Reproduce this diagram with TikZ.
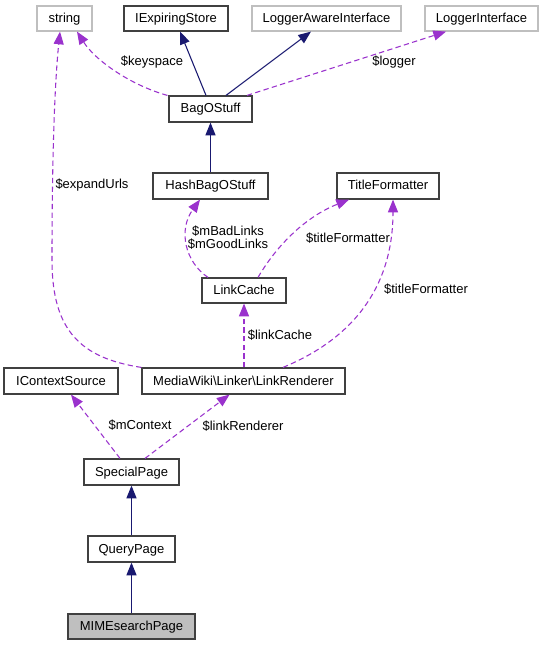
\documentclass[tikz,border=0pt]{standalone}
\usepackage{fontspec}
\setmainfont{Liberation Sans}
\usetikzlibrary{arrows.meta,calc}
\definecolor{edgepurple}{HTML}{9A32CD}
\definecolor{edgenavy}{HTML}{191970}
\definecolor{graybd}{HTML}{BFBFBF}
\definecolor{boxbd}{HTML}{404040}
\begin{document}
\begin{tikzpicture}[x=0.75pt,y=-0.75pt,
  font=\fontsize{9.75}{10.2}\selectfont,
  box/.style={draw=boxbd, line width=0.9pt, fill=white, inner sep=0pt, text=black, text height=7.5pt, text depth=1.5pt},
  extbox/.style={box, draw=graybd},
  curbox/.style={box, fill=graybd},
  inh/.style={draw=edgenavy, line width=0.8pt, -{Triangle[length=9.5pt,width=7.5pt]}},
  use/.style={draw=edgepurple, line width=0.8pt, dash pattern=on 4pt off 2.5pt, -{Triangle[length=9.5pt,width=7.5pt]}},
  lbl/.style={inner sep=0pt, text=black, align=center}]
\useasboundingbox (0,0) rectangle (543,645);
\fill[white] (0,0) rectangle (543,645);
% nodes
\node[extbox, minimum width={55*0.75pt}, minimum height={25*0.75pt}] (string) at (64.5,18.5) {string};
\node[box, minimum width={104*0.75pt}, minimum height={25*0.75pt}] (IExpiringStore) at (176,18.5) {IExpiringStore};
\node[extbox, minimum width={149*0.75pt}, minimum height={25*0.75pt}] (LoggerAwareInterface) at (326.5,18.5) {LoggerAwareInterface};
\node[extbox, minimum width={113*0.75pt}, minimum height={25*0.75pt}] (LoggerInterface) at (481.5,18.5) {LoggerInterface};
\node[box, minimum width={83*0.75pt}, minimum height={26*0.75pt}] (BagOStuff) at (210.5,109) {BagOStuff};
\node[box, minimum width={115*0.75pt}, minimum height={26*0.75pt}] (HashBagOStuff) at (210.5,186) {HashBagOStuff};
\node[box, minimum width={102*0.75pt}, minimum height={26*0.75pt}] (TitleFormatter) at (388,186) {TitleFormatter};
\node[box, minimum width={84*0.75pt}, minimum height={25*0.75pt}] (LinkCache) at (244,290.5) {LinkCache};
\node[box, minimum width={114*0.75pt}, minimum height={26*0.75pt}] (IContextSource) at (61,381) {IContextSource};
\node[box, minimum width={203*0.75pt}, minimum height={26*0.75pt}] (LinkRenderer) at (243.5,381) {MediaWiki\textbackslash Linker\textbackslash LinkRenderer};
\node[box, minimum width={95*0.75pt}, minimum height={26*0.75pt}] (SpecialPage) at (131.5,472) {SpecialPage};
\node[box, minimum width={87*0.75pt}, minimum height={26*0.75pt}] (QueryPage) at (131.5,549) {QueryPage};
\node[curbox, minimum width={127*0.75pt}, minimum height={25*0.75pt}] (MIMEsearchPage) at (131.5,626.5) {MIMEsearchPage};
% inheritance edges
\draw[inh] ($(BagOStuff.north)+(-4.5,0)$) -- ($(IExpiringStore.south)+(4,0)$);
\draw[inh] ($(BagOStuff.north)+(15.5,0)$) -- ($(LoggerAwareInterface.south)+(-15.5,0)$);
\draw[inh] (HashBagOStuff.north) -- (BagOStuff.south);
\draw[inh] (QueryPage.north) -- (SpecialPage.south);
\draw[inh] (MIMEsearchPage.north) -- (QueryPage.south);
% usage edges
\draw[use] ($(BagOStuff.north west)+(-1,0)$) .. controls (130,85) and (95,60) .. ($(string.south)+(12.5,0)$);
\draw[use] ($(BagOStuff.north)+(36.5,0)$) -- ($(LoggerInterface.south)+(-35.5,0)$);
\draw[use] ($(LinkCache.north)+(-36,0)$) .. controls (185,262) and (178,230) .. ($(HashBagOStuff.south)+(-10.5,0)$);
\draw[use] ($(LinkCache.north)+(14,0)$) .. controls (280,240) and (310,215) .. ($(TitleFormatter.south)+(-39,0)$);
\draw[use] ($(LinkRenderer.north)+(39.5,0)$) .. controls (325,350) and (393,310) .. ($(TitleFormatter.south)+(5,0)$);
\draw[use] ($(LinkRenderer.north)+(0.5,0)$) -- (LinkCache.south);
\draw[use] (LinkRenderer.north west) .. controls (80,358) and (52,330) .. (52,260) .. controls (52,150) and (55,80) .. ($(string.south)+(-4.5,0)$);
\draw[use] ($(SpecialPage.north)+(-11.5,0)$) -- ($(IContextSource.south)+(10,0)$);
\draw[use] ($(SpecialPage.north)+(13.5,0)$) -- ($(LinkRenderer.south)+(-14,0)$);
% labels
\node[lbl] (lkeyspace) at (152,62) {\$keyspace};
\node[lbl] (llogger) at (394,62) {\$logger};
\node[lbl] (lexpand) at (92,185) {\$expandUrls};
\node[lbl] (llinks) at (228,237.5) {\$mBadLinks\\\$mGoodLinks};
\node[lbl] (ltf1) at (348,238) {\$titleFormatter};
\node[lbl] (ltf2) at (426,289) {\$titleFormatter};
\node[lbl] (llinkcache) at (280,335) {\$linkCache};
\node[lbl] (lmcontext) at (140,425) {\$mContext};
\node[lbl] (llinkrend) at (243,426) {\$linkRenderer};
\end{tikzpicture}
\end{document}
